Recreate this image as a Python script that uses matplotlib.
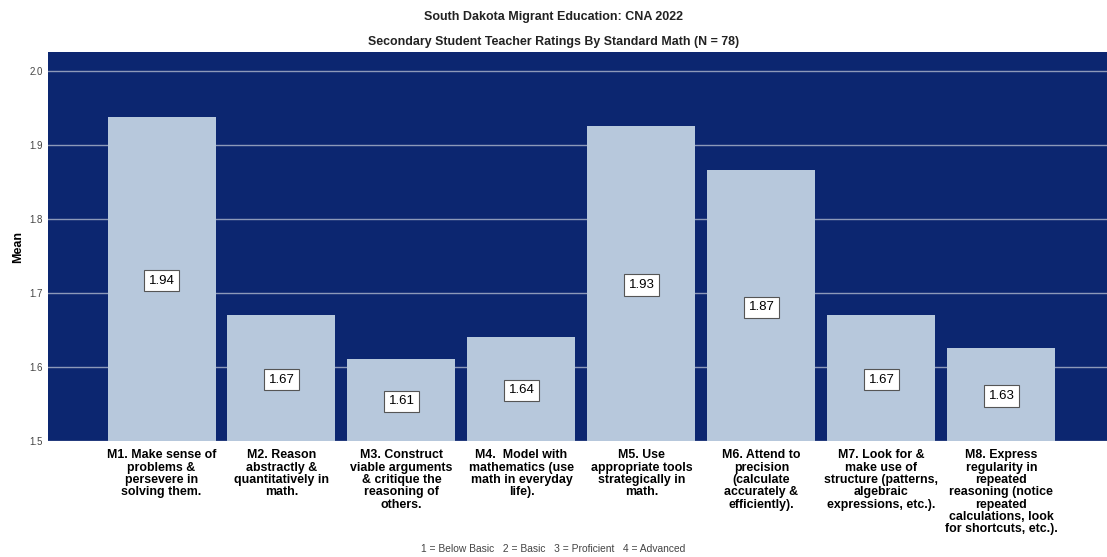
import matplotlib
matplotlib.use("Agg")
import matplotlib.pyplot as plt

# Data
categories = [
    "M1. Make sense of\nproblems &\npersevere in\nsolving them.",
    "M2. Reason\nabstractly &\nquantitatively in\nmath.",
    "M3. Construct\nviable arguments\n& critique the\nreasoning of\nothers.",
    "M4.  Model with\nmathematics (use\nmath in everyday\nlife).",
    "M5. Use\nappropriate tools\nstrategically in\nmath.",
    "M6. Attend to\nprecision\n(calculate\naccurately &\nefficiently).",
    "M7. Look for &\nmake use of\nstructure (patterns,\nalgebraic\nexpressions, etc.).",
    "M8. Express\nregularity in\nrepeated\nreasoning (notice\nrepeated\ncalculations, look\nfor shortcuts, etc.).",
]
means = [1.938, 1.670, 1.611, 1.641, 1.926, 1.866, 1.670, 1.626]
yticks = [1.5, 1.6, 1.7, 1.8, 1.9, 2.0]

plt.rcParams["font.family"] = ["Liberation Sans", "DejaVu Sans"]

fig = plt.figure(figsize=(11.07, 5.57), dpi=100)
ax = fig.add_axes([48 / 1107, 1 - 441 / 557, 1 - 48 / 1107, (441 - 52) / 557])
ax.set_facecolor("#0c2670")

ymin = 1.5
x = list(range(len(categories)))
ax.set_axisbelow(True)
ax.grid(axis="y", color="#8d99b9", linewidth=1.0)
ax.bar(x, [m - ymin for m in means], bottom=ymin, width=0.9, color="#b7c8dc", zorder=2)

for xi, m in zip(x, means):
    ax.text(xi, (ymin + m) / 2, f"{m:.2f}", ha="center", va="center_baseline",
            fontsize=9.5, zorder=3,
            bbox=dict(boxstyle="square,pad=0.35", facecolor="white",
                      edgecolor="#555555", linewidth=0.8))

ax.set_xlim(-0.946, 7.88)
ax.set_ylim(1.5, 2.026)
ax.set_yticks(yticks)
ax.set_yticklabels([f"{t:.1f}" for t in yticks], fontsize=7, color="#444444")
ax.set_xticks(x)
ax.set_xticklabels(categories, fontsize=8.9, fontweight="bold", linespacing=1.04,
                   va="top")
ax.tick_params(axis="both", length=0)
ax.tick_params(axis="x", pad=6)
for s in ax.spines.values():
    s.set_visible(False)
ax.set_ylabel("Mean", fontsize=9, fontweight="bold", labelpad=4)

fig.text(0.5, 1 - 17 / 557, "South Dakota Migrant Education: CNA 2022",
         ha="center", va="center", fontsize=9, fontweight="bold", color="#222222")
fig.text(0.5, 1 - 42 / 557, "Secondary Student Teacher Ratings By Standard Math (N = 78)",
         ha="center", va="center", fontsize=8.9, fontweight="bold", color="#222222")
fig.text(0.5, 1 - 549 / 557,
         "1 = Below Basic   2 = Basic   3 = Proficient   4 = Advanced",
         ha="center", va="center", fontsize=7.4, color="#444444")

fig.savefig("out.png", dpi=100)
